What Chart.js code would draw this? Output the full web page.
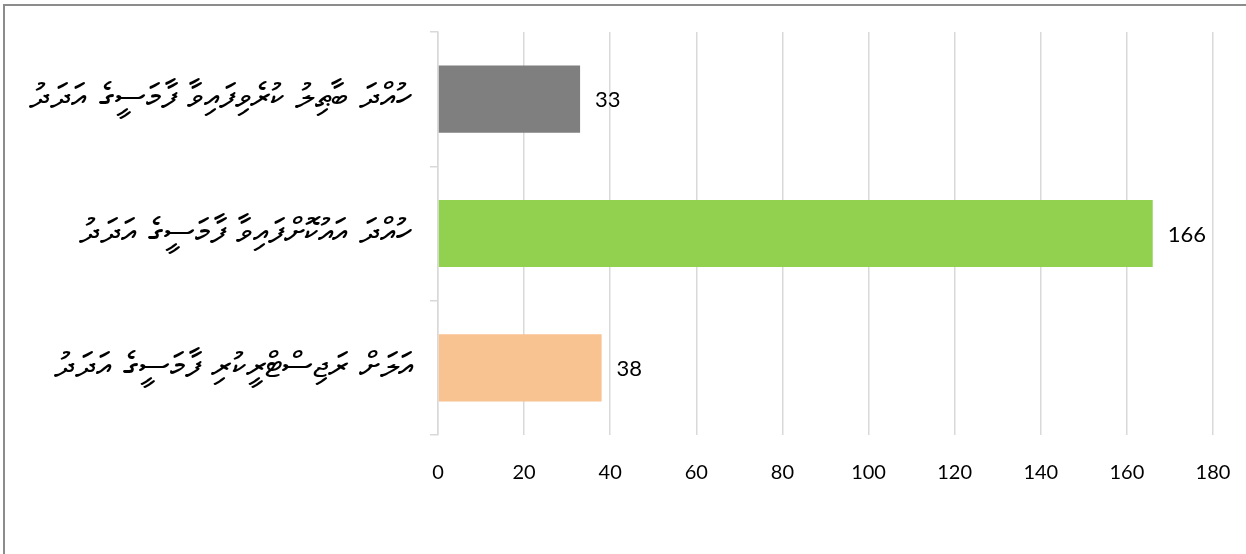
<!DOCTYPE html>
<html><head><meta charset="utf-8">
<script src="https://cdn.jsdelivr.net/npm/chart.js@4.4.1/dist/chart.umd.min.js"></script>
<style>html,body{margin:0;padding:0;background:#fff}#wrap{width:1246px;height:554px;position:relative}</style>
</head><body><div id="wrap"><canvas id="c" width="1246" height="554"></canvas></div>
<script>
const categories = [
  "ހުއްދަ ބާޠިލު ކުރެވިފައިވާ ފާމަސީގެ އަދަދު",
  "ހުއްދަ އައުކޮށްފައިވާ ފާމަސީގެ އަދަދު",
  "އަލަށް ރަޖިސްޓްރީކުރި ފާމަސީގެ އަދަދު"
];
const values = [33, 166, 38];
const barColors = ["#7f7f7f", "#92d050", "#f8c291"];
const xMin = 0, xMax = 180, xStep = 20;

const frame = {
  id: 'frame',
  beforeDraw(chart) {
    const ctx = chart.ctx;
    ctx.save();
    ctx.fillStyle = '#fff';
    ctx.fillRect(0, 0, chart.width, chart.height);
    ctx.strokeStyle = '#8c8c8c';
    ctx.lineWidth = 2;
    ctx.strokeRect(4, 5, chart.width + 10, chart.height + 10);
    ctx.restore();
  }
};
const valueLabels = {
  id: 'valueLabels',
  afterDatasetsDraw(chart) {
    const ctx = chart.ctx;
    const meta = chart.getDatasetMeta(0);
    ctx.save();
    ctx.font = '22px Lato';
    ctx.fillStyle = '#000';
    ctx.textAlign = 'left';
    ctx.textBaseline = 'middle';
    meta.data.forEach((bar, i) => {
      ctx.fillText(String(values[i]), bar.x + 15, bar.y + 1);
    });
    ctx.restore();
  }
};

new Chart(document.getElementById('c'), {
  type: 'bar',
  data: {
    labels: categories,
    datasets: [{
      data: values,
      backgroundColor: barColors,
      borderWidth: 0,
      barPercentage: 0.5,
      categoryPercentage: 1.0
    }]
  },
  options: {
    indexAxis: 'y',
    responsive: false,
    animation: false,
    devicePixelRatio: 1,
    layout: { padding: { top: 32, right: 33, left: 0, bottom: 0 } },
    plugins: { legend: { display: false }, tooltip: { enabled: false } },
    scales: {
      x: {
        min: xMin, max: xMax,
        ticks: { stepSize: xStep, color: '#000', font: { family: 'Lato', size: 20 }, padding: 26 },
        grid: { color: '#d9d9d9', lineWidth: 1.5, drawTicks: false },
        border: { display: false },
        afterFit(scale) { scale.height = 119; scale.paddingLeft = 0; scale.paddingRight = 0; }
      },
      y: {
        ticks: { color: '#000', font: { family: 'DejaVu Sans', size: 35 }, padding: 17 },
        grid: { color: '#d9d9d9', lineWidth: 1.5, drawOnChartArea: false, drawTicks: true, tickLength: 8, offset: true },
        border: { display: true, color: '#d9d9d9', width: 1.5 },
        afterFit(scale) { scale.width = 438; scale.paddingTop = 0; scale.paddingBottom = 0; }
      }
    }
  },
  plugins: [frame, valueLabels]
});
</script>
</body></html>
